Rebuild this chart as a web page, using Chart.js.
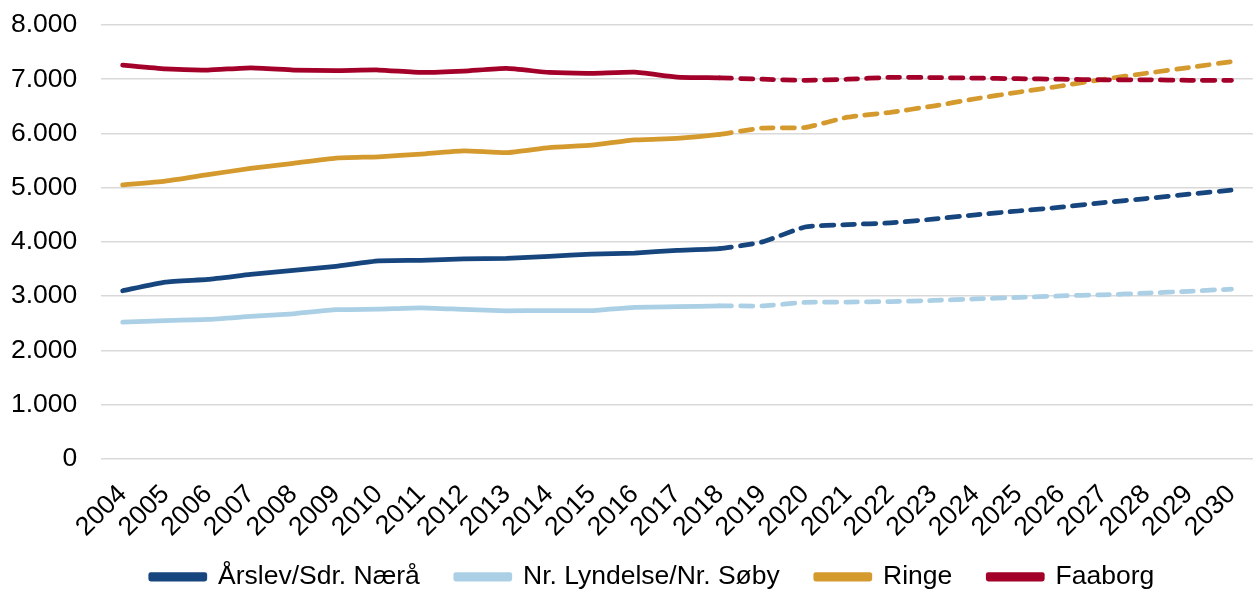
<!DOCTYPE html>
<html>
<head>
<meta charset="utf-8">
<script src="https://cdn.jsdelivr.net/npm/chart.js@4"></script>
<style>
  html, body { margin: 0; padding: 0; background: #fff; }
  #wrap { width: 1254px; height: 590px; }
</style>
</head>
<body>
<div id="wrap"><canvas id="c" width="1254" height="590"></canvas></div>
<script>
const years = ['2004','2005','2006','2007','2008','2009','2010','2011','2012','2013','2014','2015','2016','2017','2018','2019','2020','2021','2022','2023','2024','2025','2026','2027','2028','2029','2030'];

const seriesNames = ['Årslev/Sdr. Nærå', 'Nr. Lyndelse/Nr. Søby', 'Ringe', 'Faaborg'];

const arslev = [3100,3260,3310,3400,3475,3550,3650,3660,3685,3695,3735,3775,3795,3845,3875,4000,4275,4320,4350,4420,4500,4570,4640,4725,4800,4880,4955];
const lyndelse = [2520,2550,2570,2625,2675,2750,2760,2785,2755,2730,2735,2735,2795,2805,2820,2820,2885,2890,2900,2920,2950,2975,3005,3025,3055,3090,3130];
const ringe = [5050,5120,5240,5355,5450,5545,5570,5620,5680,5645,5740,5785,5880,5910,5985,6100,6110,6300,6390,6505,6640,6760,6875,7000,7110,7215,7325];
const faaborg = [7260,7190,7170,7210,7170,7160,7170,7125,7150,7200,7125,7110,7130,7040,7025,7000,6980,7000,7035,7030,7020,7010,7000,6990,6990,6980,6980];

const yTicks = [0,1000,2000,3000,4000,5000,6000,7000,8000];
const lastActualIndex = 14; // 2018: projection (dashed) starts here

const colors = ['#17467f', '#abd0e6', '#d59a2e', '#a3002a'];

function fmt(v) {
  return String(v).replace(/\B(?=(\d{3})+(?!\d))/g, '.');
}

const FONT = "'Liberation Sans', Arial, sans-serif";
const FS = 26.5;
const dashAfter = (ctx) => ctx.p0DataIndex >= lastActualIndex ? [12, 9] : undefined;

function mk(label, data, color, order) {
  return {
    label, data,
    borderColor: color,
    backgroundColor: color,
    borderWidth: 4.75,
    borderCapStyle: 'round',
    borderJoinStyle: 'round',
    pointRadius: 0,
    pointHoverRadius: 0,
    tension: 0.15,
    fill: false,
    order,
    segment: { borderDash: dashAfter }
  };
}

const legendShift = {
  id: 'legendShift',
  afterLayout(chart) {
    const l = chart.legend;
    if (l) {
      l.left += 20; l.right += 20;
      l.top -= 15.5; l.bottom -= 15.5;
    }
  }
};

new Chart(document.getElementById('c'), {
  type: 'line',
  data: {
    labels: years,
    datasets: [
      mk(seriesNames[0], arslev, colors[0], 3),
      mk(seriesNames[1], lyndelse, colors[1], 2),
      mk(seriesNames[2], ringe, colors[2], 1),
      mk(seriesNames[3], faaborg, colors[3], 0)
    ]
  },
  plugins: [legendShift],
  options: {
    responsive: false,
    animation: false,
    devicePixelRatio: 1,
    events: [],
    layout: { padding: { top: 25, left: 11, right: 0, bottom: -25.5 } },
    plugins: {
      tooltip: { enabled: false },
      legend: {
        position: 'bottom',
        labels: {
          font: { family: FONT, size: FS },
          color: '#000',
          boxWidth: 54,
          boxHeight: 4.5,
          padding: 36,
          sort: (a, b) => a.datasetIndex - b.datasetIndex
        }
      }
    },
    scales: {
      x: {
        offset: true,
        grid: { display: true, drawOnChartArea: false, drawTicks: true, tickLength: 20, tickColor: 'rgba(0,0,0,0)' },
        border: { display: false },
        ticks: {
          autoSkip: false,
          maxRotation: 45,
          minRotation: 45,
          padding: 0,
          color: '#000',
          font: { family: FONT, size: FS }
        }
      },
      y: {
        min: 0,
        max: 8000,
        afterBuildTicks: (axis) => { axis.ticks = yTicks.map(v => ({ value: v })); },
        grid: { color: '#d9d9d9', lineWidth: 1.5, drawTicks: true, tickLength: 24, tickColor: 'rgba(0,0,0,0)' },
        border: { display: false },
        ticks: {
          padding: 0,
          color: '#000',
          font: { family: FONT, size: FS },
          callback: (v) => fmt(v)
        }
      }
    }
  }
});
</script>
</body>
</html>
